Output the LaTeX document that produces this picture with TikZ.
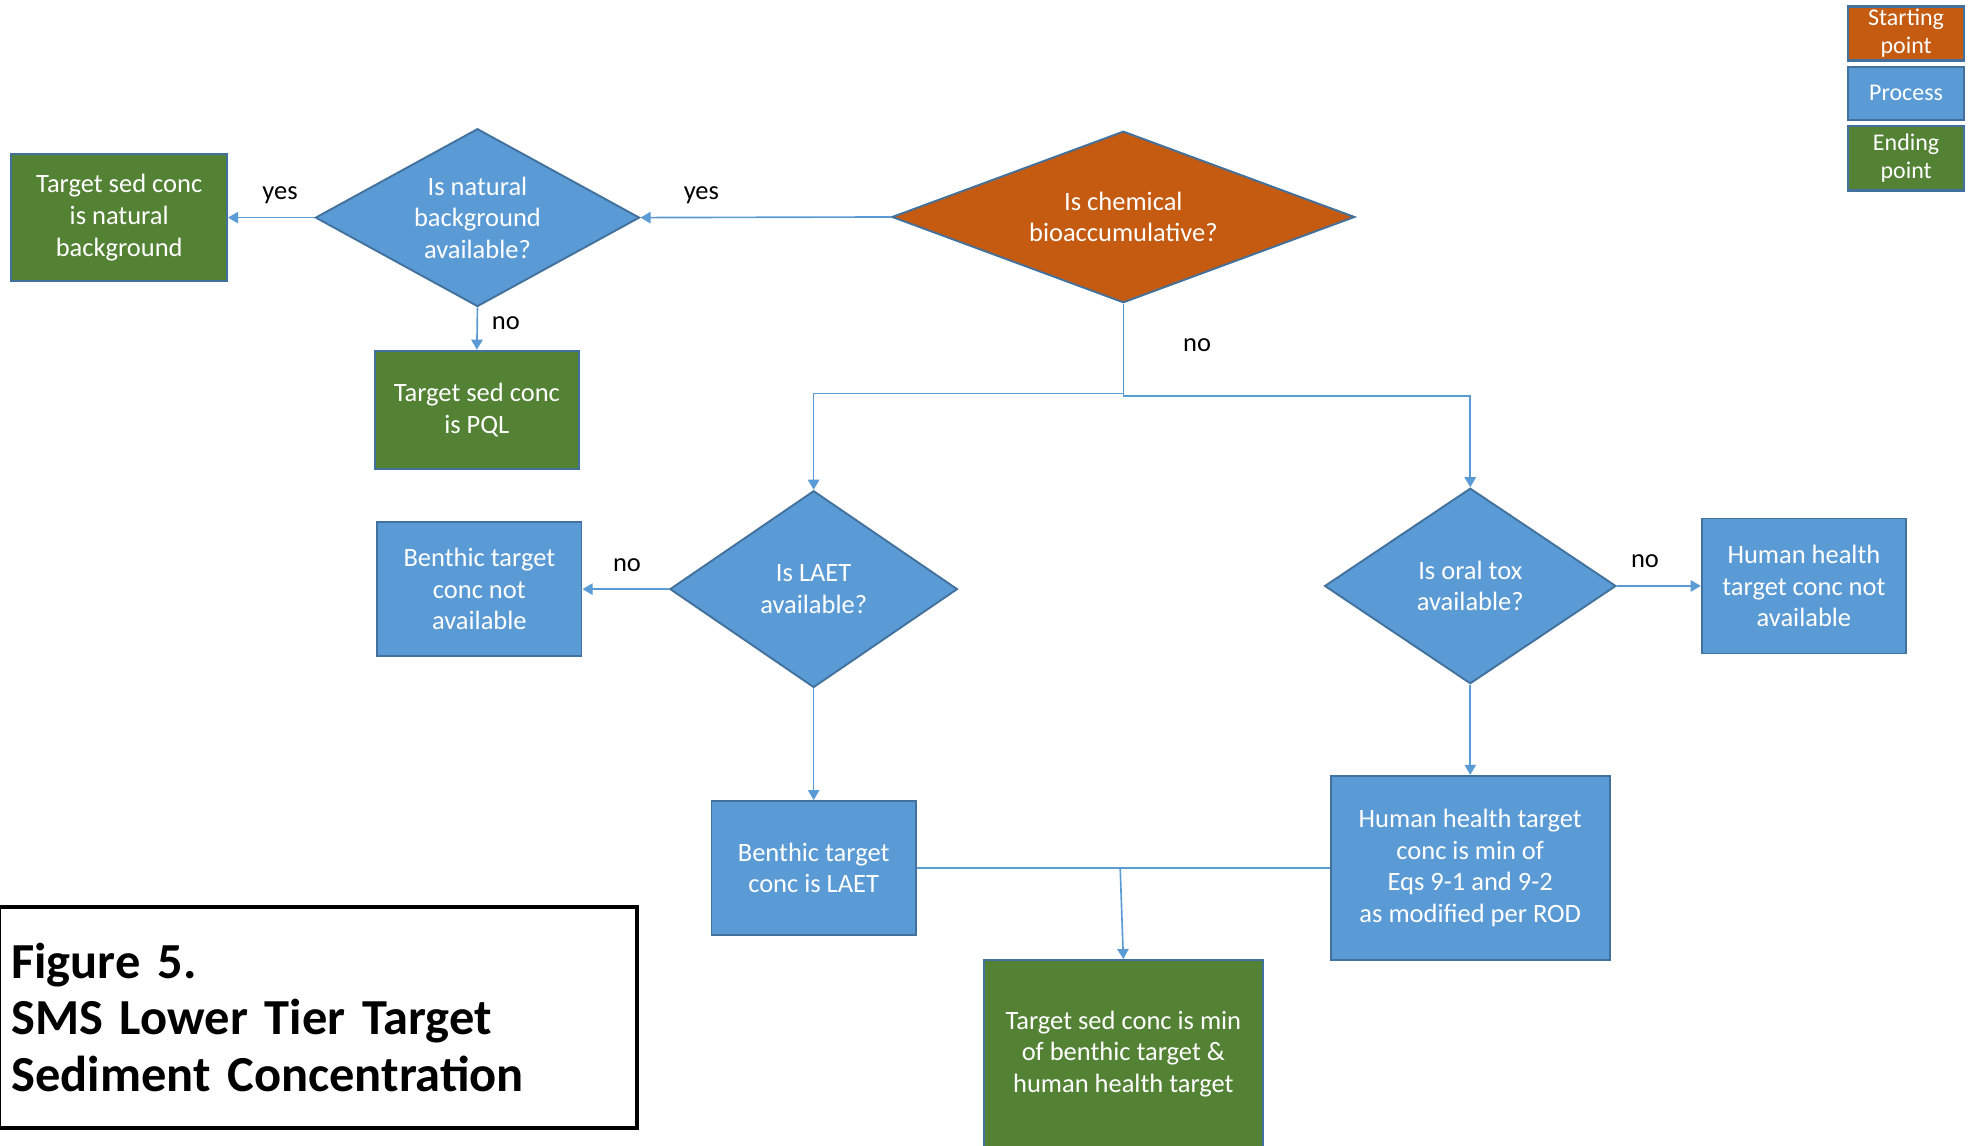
\documentclass[tikz,border=0pt]{standalone}
\usepackage{fontspec}
\setmainfont{Carlito}
\usetikzlibrary{shapes.geometric,arrows.meta}
\definecolor{startfill}{HTML}{C55A11}
\definecolor{procfill}{HTML}{5B9BD5}
\definecolor{endfill}{HTML}{548235}
\definecolor{edgeblue}{HTML}{41719C}
\definecolor{linkblue}{HTML}{5B9BD5}
\begin{document}
\begin{tikzpicture}[x=1pt,y=-1pt,
  base/.style={draw=edgeblue, line width=1.5pt, text=white, align=center,
    font=\fontsize{21}{25}\selectfont, inner sep=0pt},
  procbox/.style={base, rectangle, fill=procfill},
  endbox/.style={base, rectangle, fill=endfill},
  decision/.style={base, diamond, fill=procfill},
  legendbox/.style={base, rectangle, line width=2pt, minimum width=92pt,
    font=\fontsize{19}{22}\selectfont},
  link/.style={draw=linkblue, line width=1.3pt},
  arrowlink/.style={link, -{Triangle[length=8pt,width=9pt]}},
  tag/.style={text=black, font=\fontsize{21}{25}\selectfont, inner sep=0pt}
]
\useasboundingbox (0,0) rectangle (1568,908);

% legend
\node[legendbox, fill=startfill, minimum height=43pt] (lstart) at (1511,26.5) {Starting\\point};
\node[legendbox, fill=procfill, minimum height=42pt] (lproc) at (1511,74) {Process};
\node[legendbox, fill=endfill, minimum height=51pt] (lend) at (1511,125.5) {Ending\\point};

% decisions
\node[decision, fill=startfill, aspect=2.7, minimum width=367pt, minimum height=136pt]
  (bioacc) at (890.5,172) {Is chemical\\bioaccumulative?};
\node[decision, aspect=1.82, minimum width=257pt, minimum height=141pt]
  (natq) at (378.5,172.5) {Is natural\\background\\available?};
\node[decision, aspect=1.46, minimum width=228pt, minimum height=156pt]
  (laetq) at (645,467) {Is LAET\\available?};
\node[decision, aspect=1.49, minimum width=231pt, minimum height=155pt]
  (oralq) at (1165.5,464.5) {Is oral tox\\available?};

% outcomes and steps
\node[endbox, minimum width=171pt, minimum height=101pt] (natbg) at (94.5,172.5)
  {Target sed conc\\is natural\\background};
\node[endbox, minimum width=162pt, minimum height=94pt] (pql) at (378,325)
  {Target sed conc\\is PQL};
\node[procbox, minimum width=162pt, minimum height=106pt] (bennot) at (380,467)
  {Benthic target\\conc not\\available};
\node[procbox, minimum width=162pt, minimum height=107pt] (hhnot) at (1430,464.5)
  {Human health\\target conc not\\available};
\node[procbox, minimum width=162pt, minimum height=106pt] (laet) at (645,688)
  {Benthic target\\conc is LAET};
\node[procbox, minimum width=221pt, minimum height=146pt] (hhmin) at (1165.5,688)
  {Human health target\\conc is min of\\Eqs 9-1 and 9-2\\as modified per ROD};
\node[endbox, minimum width=221pt, minimum height=149pt] (final) at (890.5,835.5)
  {Target sed conc is min\\of benthic target \&\\human health target};

% connectors
\draw[arrowlink] (bioacc.west) -- (natq.east);
\draw[arrowlink] (natq.west) -- (natbg.east);
\draw[arrowlink] (natq.south) -- (pql.north);
\coordinate (splitl) at (890.5,312);
\coordinate (splitr) at (890.5,314);
\draw[arrowlink] (bioacc.south) -- (splitl) -| (laetq.north);
\draw[arrowlink] (bioacc.south) -- (splitr) -| (oralq.north);
\draw[arrowlink] (laetq.west) -- (bennot.east);
\draw[arrowlink] (oralq.east) -- (hhnot.west);
\draw[arrowlink] (laetq.south) -- (laet.north);
\draw[arrowlink] (oralq.south) -- (hhmin.north);
\draw[link] (laet.east) -- (hhmin.west);
\coordinate (join) at (888,688);
\draw[arrowlink] (join) -- (final.north);

% connector labels
\node[tag] (yes1) at (556,155) {yes};
\node[tag] (yes2) at (222,155) {yes};
\node[tag] (no1) at (401,256) {no};
\node[tag] (no2) at (949,274) {no};
\node[tag] (no3) at (497,448) {no};
\node[tag] (no4) at (1304,445) {no};

% figure title
\node[draw=black, line width=3.5pt, minimum width=506pt, minimum height=175pt,
  inner xsep=10pt, text width=486pt, align=left,
  font=\bfseries\fontsize{40}{45}\selectfont] (title) at (252,806.5)
  {Figure 5.\\SMS Lower Tier Target\\Sediment Concentration};
\end{tikzpicture}
\end{document}
